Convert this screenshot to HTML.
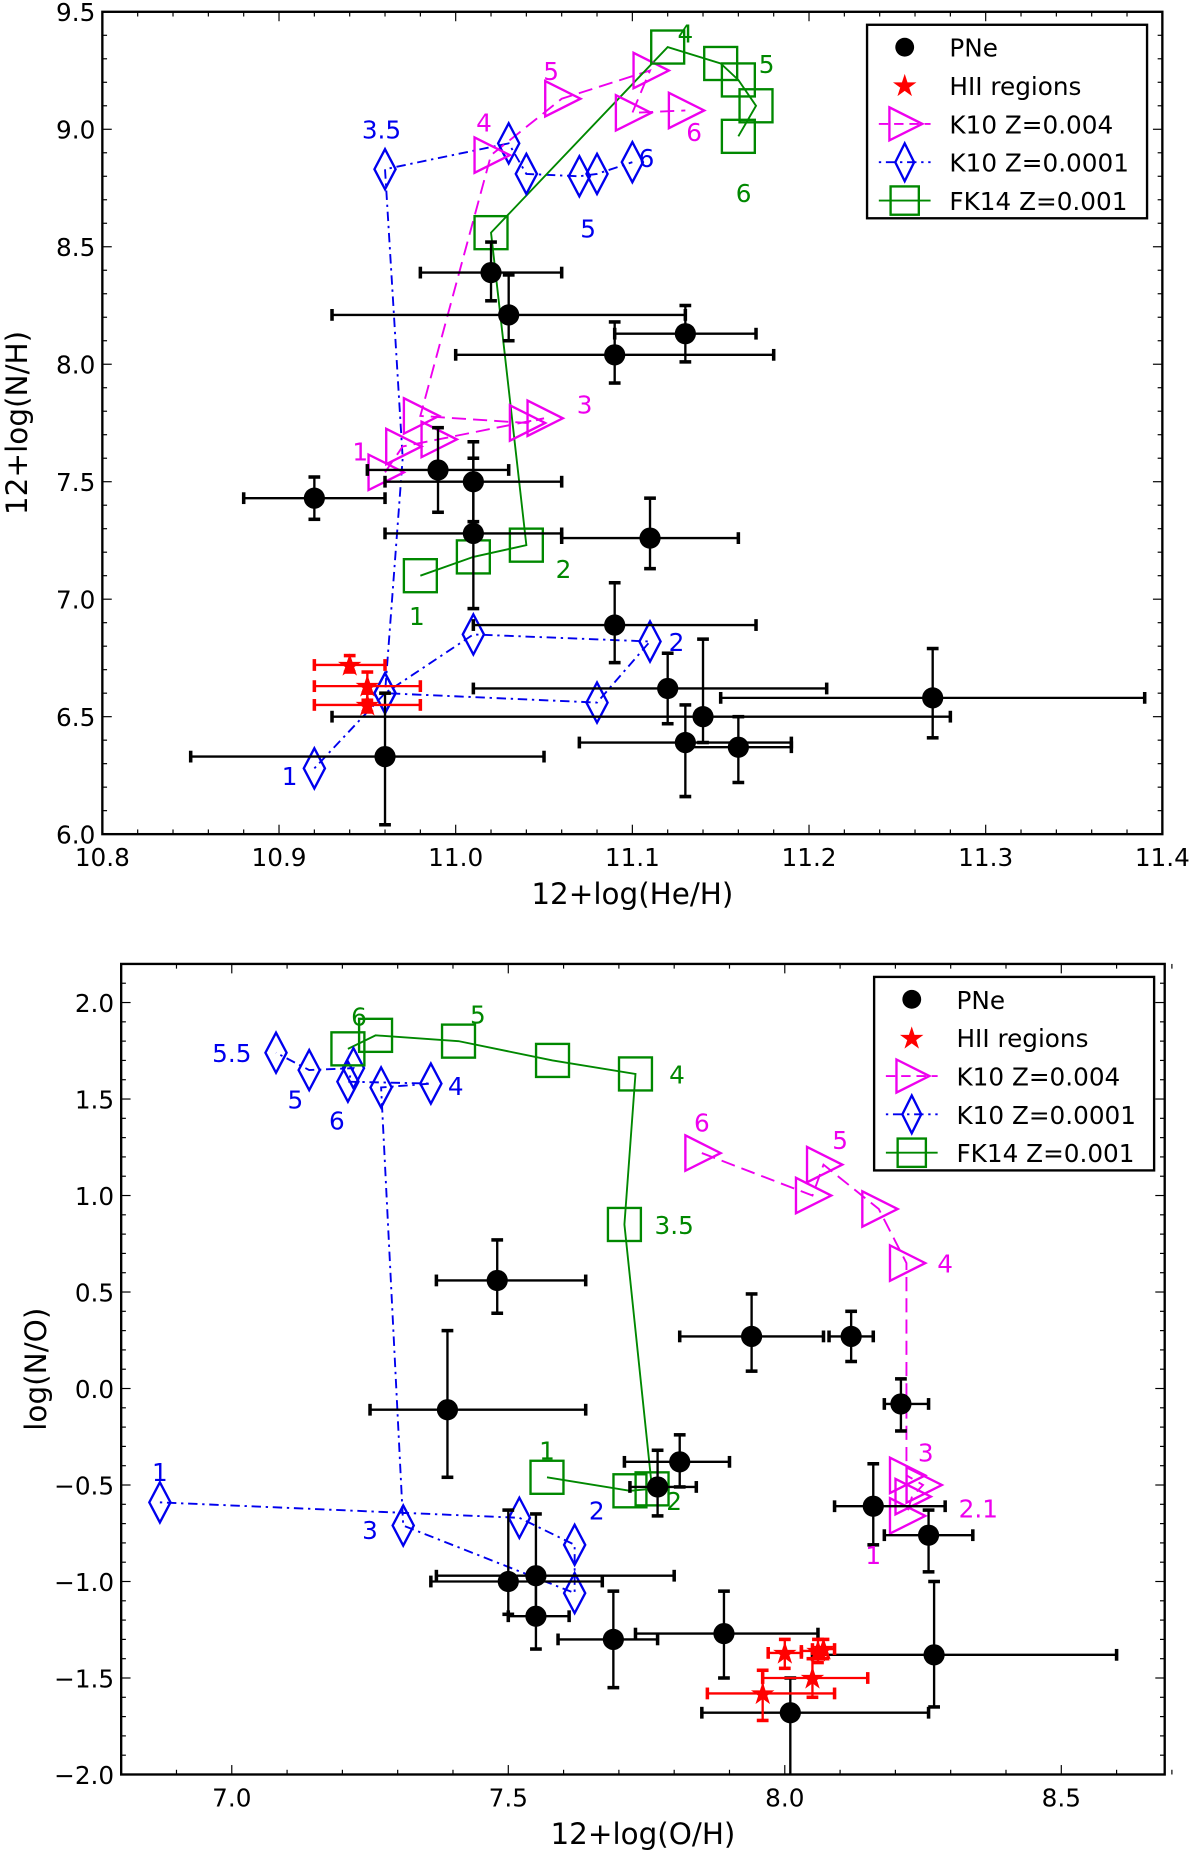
<!DOCTYPE html>
<html><head><meta charset="utf-8">
<style>
html,body{margin:0;padding:0;background:#fff}
svg{display:block}
text{font-family:"DejaVu Sans","Liberation Sans",sans-serif}
</style></head>
<body>
<svg id="fig" width="1200" height="1850" viewBox="0 0 1020 1568" preserveAspectRatio="none" xmlns="http://www.w3.org/2000/svg"></svg>
<script>
// ===== Top panel data: 12+log(He/H) vs 12+log(N/H) =====
const pneTopX=[11.02,11.03,11.13,11.09,10.92,10.99,11.01,11.01,11.11,11.09,11.12,11.27,11.14,11.13,11.16,10.96];
const pneTopY=[8.39,8.21,8.13,8.04,7.43,7.55,7.50,7.28,7.26,6.89,6.62,6.58,6.50,6.39,6.37,6.33];
const pneTopXlo=[10.98,10.93,11.09,11.00,10.88,10.95,10.96,10.96,11.06,11.01,11.01,11.15,10.93,11.07,11.13,10.85];
const pneTopXhi=[11.06,11.13,11.17,11.18,10.96,11.03,11.06,11.06,11.16,11.17,11.21,11.39,11.28,11.19,11.19,11.05];
const pneTopYlo=[8.27,8.10,8.01,7.92,7.34,7.37,7.33,6.96,7.13,6.73,6.47,6.41,6.39,6.16,6.22,6.04];
const pneTopYhi=[8.52,8.38,8.25,8.18,7.52,7.73,7.67,7.60,7.43,7.07,6.77,6.79,6.83,6.55,6.50,6.60];
const hiiTopX=[10.94,10.95,10.95];
const hiiTopY=[6.72,6.63,6.55];
const hiiTopXlo=[10.92,10.92,10.92];
const hiiTopXhi=[10.96,10.98,10.98];
const hiiTopYlo=[6.69,6.57,6.52];
const hiiTopYhi=[6.76,6.69,6.60];
const k4TopX=[10.96,10.97,10.99,11.05,11.04,10.98,11.02,11.06,11.11,11.10,11.13];
const k4TopY=[7.54,7.65,7.68,7.77,7.75,7.78,8.89,9.13,9.25,9.07,9.08];
const k1TopX=[10.92,10.96,11.01,11.11,11.08,10.96,10.97,10.96,11.03,11.04,11.07,11.08,11.10];
const k1TopY=[6.28,6.60,6.85,6.82,6.56,6.60,7.60,8.83,8.94,8.81,8.80,8.81,8.86];
const fkTopX=[10.98,11.01,11.04,11.02,11.12,11.15,11.16,11.17,11.16];
const fkTopY=[7.10,7.18,7.23,8.56,9.35,9.28,9.21,9.10,8.97];
const topLabels=[["1",10.946,7.63,"#e0e"],["3",11.073,7.83,"#e0e"],["4",11.016,9.03,"#e0e"],["5",11.054,9.25,"#e0e"],["6",11.135,8.99,"#e0e"],
 ["3.5",10.958,9.0,"#00e"],["5",11.075,8.58,"#00e"],["6",11.108,8.88,"#00e"],["2",11.125,6.82,"#00e"],["1",10.906,6.25,"#00e"],
 ["1",10.978,6.93,"#080"],["2",11.061,7.13,"#080"],["4",11.13,9.41,"#080"],["5",11.176,9.28,"#080"],["6",11.163,8.73,"#080"]];

// ===== Bottom panel data: 12+log(O/H) vs log(N/O) =====
const pneBotX=[7.48,7.39,7.94,8.12,8.21,7.81,7.77,8.16,8.26,7.50,7.55,7.55,7.69,7.89,8.27,8.01];
const pneBotY=[0.56,-0.11,0.27,0.27,-0.08,-0.38,-0.51,-0.61,-0.76,-1.00,-0.97,-1.18,-1.30,-1.27,-1.38,-1.68];
const pneBotXlo=[7.37,7.25,7.81,8.08,8.18,7.71,7.72,8.09,8.18,7.36,7.37,7.50,7.59,7.73,8.05,7.85];
const pneBotXhi=[7.64,7.64,8.07,8.16,8.26,7.90,7.84,8.29,8.34,7.67,7.80,7.61,7.77,8.06,8.60,8.26];
const pneBotYlo=[0.39,-0.46,0.09,0.14,-0.22,-0.51,-0.66,-0.81,-0.95,-1.17,-1.18,-1.35,-1.55,-1.50,-1.65,-2.10];
const pneBotYhi=[0.77,0.30,0.49,0.40,0.05,-0.24,-0.32,-0.39,-0.63,-0.63,-0.65,-0.97,-1.05,-1.05,-1.00,-1.50];
const hiiBotX=[8.00,8.07,8.05,7.96,8.06];
const hiiBotY=[-1.37,-1.35,-1.50,-1.58,-1.36];
const hiiBotXlo=[7.97,8.05,7.96,7.86,8.03];
const hiiBotXhi=[8.03,8.09,8.15,8.09,8.07];
const hiiBotYlo=[-1.45,-1.40,-1.60,-1.72,-1.42];
const hiiBotYhi=[-1.30,-1.30,-1.40,-1.46,-1.30];
const k4BotX=[7.85,8.05,8.07,8.17,8.22,8.22,8.25,8.23,8.22];
const k4BotY=[1.22,1.00,1.16,0.93,0.65,-0.45,-0.50,-0.56,-0.66];
const k1BotX=[6.87,7.52,7.62,7.62,7.31,7.27,7.36,7.21,7.22,7.14,7.08];
const k1BotY=[-0.59,-0.67,-0.81,-1.06,-0.71,1.56,1.58,1.59,1.66,1.65,1.74];
const fkBotX=[7.21,7.26,7.41,7.58,7.73,7.71,7.76,7.72,7.57];
const fkBotY=[1.76,1.83,1.80,1.70,1.63,0.85,-0.52,-0.53,-0.46];
const botLabels=[["6",7.85,1.38,"#e0e"],["5",8.10,1.29,"#e0e"],["4",8.29,0.65,"#e0e"],["3",8.255,-0.33,"#e0e"],["2.1",8.35,-0.62,"#e0e"],["1",8.16,-0.86,"#e0e"],
 ["1",6.87,-0.43,"#00e"],["3",7.25,-0.73,"#00e"],["2",7.66,-0.63,"#00e"],["4",7.405,1.57,"#00e"],["6",7.19,1.39,"#00e"],["5",7.115,1.50,"#00e"],["5.5",7.0,1.74,"#00e"],
 ["6",7.23,1.93,"#080"],["5",7.445,1.94,"#080"],["4",7.805,1.63,"#080"],["3.5",7.8,0.85,"#080"],["2",7.80,-0.58,"#080"],["1",7.57,-0.32,"#080"]];

const NS="http://www.w3.org/2000/svg";
const svg=document.getElementById('fig');
function el(tag,attrs,parent,txt){const e=document.createElementNS(NS,tag);for(const k in attrs)e.setAttribute(k,attrs[k]);if(txt!==undefined)e.textContent=txt;(parent||svg).appendChild(e);return e;}
function fmt(v){return (v<0?"\u2212":"")+Math.abs(v).toFixed(1);}

function panel(cfg){
  const g=el('g',{});
  
  
  const X=v=>cfg.L+(v-cfg.x0)/(cfg.x1-cfg.x0)*(cfg.R-cfg.L);
  const Y=v=>cfg.B-(v-cfg.y0)/(cfg.y1-cfg.y0)*(cfg.B-cfg.T);
  const clip='clip'+cfg.name;
  const cp=el('clipPath',{id:clip},g);el('rect',{x:cfg.L,y:cfg.T,width:cfg.R-cfg.L,height:cfg.B-cfg.T},cp);
  const tg=el('g',{stroke:'#000','stroke-width':1},g);
  
  const nx=Math.round((cfg.x1-cfg.x0)/cfg.xmin);
  for(let i=0;i<=nx;i++){const v=cfg.x0+i*cfg.xmin;const major=Math.abs(v/cfg.xmaj-Math.round(v/cfg.xmaj))<1e-6;const len=major?8:4;const px=X(v);
    el('line',{x1:px,x2:px,y1:cfg.B,y2:cfg.B-len},tg);el('line',{x1:px,x2:px,y1:cfg.T,y2:cfg.T+len},tg);
    if(major){const t=el('text',{x:px,y:cfg.B+27,'text-anchor':'middle','font-size':21,fill:'#000',stroke:'none'},g,v.toFixed(1));}}
  const ny=Math.round((cfg.y1-cfg.y0)/cfg.ymin);
  for(let i=0;i<=ny;i++){const v=cfg.y0+i*cfg.ymin;const major=Math.abs(v/cfg.ymaj-Math.round(v/cfg.ymaj))<1e-6;const len=major?8:4;const py=Y(v);
    el('line',{x1:cfg.L,x2:cfg.L+len,y1:py,y2:py},tg);el('line',{x1:cfg.R,x2:cfg.R-len,y1:py,y2:py},tg);
    if(major){const t=el('text',{x:cfg.L-6,y:py+8,'text-anchor':'end','font-size':21,fill:'#000',stroke:'none'},g,fmt(v));}}
  const xl=el('text',{x:(cfg.L+cfg.R)/2,y:cfg.B+59,'text-anchor':'middle','font-size':25},g,cfg.xlabel);
  
  const yl=el('text',{x:0,y:0,'text-anchor':'middle','font-size':25,transform:`translate(${cfg.L-64},${(cfg.T+cfg.B)/2}) rotate(-90)`},g,cfg.ylabel);
  
  const pg=el('g',{'clip-path':`url(#${clip})`},g);
  function line(xs,ys,col,dash,nm){const pts=xs.map((x,i)=>X(x)+','+Y(ys[i])).join(' ');const p=el('polyline',{points:pts,fill:'none',stroke:col,'stroke-width':1.6,'stroke-dasharray':dash},pg);}
  line(cfg.k1x,cfg.k1y,'#00e','2,4,8,4','k10-z0001-line');
  line(cfg.k4x,cfg.k4y,'#e0e','12,6','k10-z004-line');
  line(cfg.fkx,cfg.fky,'#080','','fk14-line');
  function diamond(x,y,col){const px=X(x),py=Y(y);const p=el('polygon',{points:`${px},${py-17} ${px+9},${py} ${px},${py+17} ${px-9},${py}`,fill:'none',stroke:col,'stroke-width':2},pg);}
  function tri(x,y,col){const px=X(x),py=Y(y);const p=el('polygon',{points:`${px-14},${py-15} ${px+16},${py} ${px-14},${py+15}`,fill:'none',stroke:col,'stroke-width':2},pg);}
  function sq(x,y,col){const px=X(x),py=Y(y);const p=el('rect',{x:px-14,y:py-14,width:28,height:28,fill:'none',stroke:col,'stroke-width':2},pg);}
  cfg.k1x.forEach((x,i)=>{if(!(cfg.skip1&&cfg.skip1.includes(i)))diamond(x,cfg.k1y[i],'#00e');});
  cfg.k4x.forEach((x,i)=>tri(x,cfg.k4y[i],'#e0e'));
  cfg.fkx.forEach((x,i)=>sq(x,cfg.fky[i],'#080'));
  function errs(xs,ys,xlo,xhi,ylo,yhi,col,kind){
    xs.forEach((x,i)=>{const eg=el('g',{stroke:col,'stroke-width':2},pg);
      
      const px=X(x),py=Y(ys[i]);
      el('line',{x1:X(xlo[i]),x2:X(xhi[i]),y1:py,y2:py},eg);
      el('line',{x1:px,x2:px,y1:Y(ylo[i]),y2:Y(yhi[i])},eg);
      [X(xlo[i]),X(xhi[i])].forEach(c=>el('line',{x1:c,x2:c,y1:py-5,y2:py+5,'stroke-width':3},eg));
      [Y(ylo[i]),Y(yhi[i])].forEach(c=>el('line',{x1:px-5,x2:px+5,y1:c,y2:c,'stroke-width':3},eg));
      if(kind==='pne')el('circle',{cx:px,cy:py,r:9,fill:'#000',stroke:'none'},eg);
      else el('text',{x:px,y:py+9,'text-anchor':'middle','font-size':26,fill:col,stroke:'none'},eg,'\u2605');
    });}
  errs(cfg.px,cfg.py,cfg.pxlo,cfg.pxhi,cfg.pylo,cfg.pyhi,'#000','pne');
  errs(cfg.hx,cfg.hy,cfg.hxlo,cfg.hxhi,cfg.hylo,cfg.hyhi,'#f00','hii');
  cfg.labels.forEach(l=>{const t=el('text',{x:X(l[1]),y:Y(l[2])+8,'text-anchor':'middle','font-size':21,fill:l[3]},pg,l[0]);});
  const fr=el('rect',{x:cfg.L,y:cfg.T,width:cfg.R-cfg.L,height:cfg.B-cfg.T,fill:'none',stroke:'#000','stroke-width':2},g);
  
  const lg=el('g',{},g);
  const lx=cfg.lx,ly=cfg.ly;
  el('rect',{x:lx,y:ly,width:238,height:164,fill:'#fff',stroke:'#000','stroke-width':2},lg);
  const names=['PNe','HII regions','K10 Z=0.004','K10 Z=0.0001','FK14 Z=0.001'];
  names.forEach((n,i)=>{const cy=ly+19+i*32.5;const cx=lx+32;
    const e=el('g',{},lg);
    if(i===0)el('circle',{cx:cx,cy:cy,r:8,fill:'#000'},e);
    if(i===1)el('text',{x:cx,y:cy+9,'text-anchor':'middle','font-size':26,fill:'#f00'},e,'\u2605');
    if(i===2){el('line',{x1:cx-22,x2:cx+22,y1:cy,y2:cy,stroke:'#e0e','stroke-width':1.6,'stroke-dasharray':'8,5'},e);el('polygon',{points:`${cx-13},${cy-14} ${cx+15},${cy} ${cx-13},${cy+14}`,fill:'none',stroke:'#e0e','stroke-width':2},e);}
    if(i===3){el('line',{x1:cx-22,x2:cx+22,y1:cy,y2:cy,stroke:'#00e','stroke-width':1.6,'stroke-dasharray':'2,4,8,4'},e);el('polygon',{points:`${cx},${cy-16} ${cx+8},${cy} ${cx},${cy+16} ${cx-8},${cy}`,fill:'none',stroke:'#00e','stroke-width':2},e);}
    if(i===4){el('line',{x1:cx-22,x2:cx+22,y1:cy,y2:cy,stroke:'#080','stroke-width':1.6},e);el('rect',{x:cx-12,y:cy-12,width:24,height:24,fill:'none',stroke:'#080','stroke-width':2},e);}
    el('text',{x:lx+70,y:cy+8,'font-size':21},e,n);
  });
}

panel({name:'top-panel',L:87,R:988,T:10,B:707,x0:10.8,x1:11.4,y0:6.0,y1:9.5,xmaj:0.1,xmin:0.02,ymaj:0.5,ymin:0.1,
  xlabel:'12+log(He/H)',ylabel:'12+log(N/H)',lx:737,ly:21,skip1:[6],
  px:pneTopX,py:pneTopY,pxlo:pneTopXlo,pxhi:pneTopXhi,pylo:pneTopYlo,pyhi:pneTopYhi,
  hx:hiiTopX,hy:hiiTopY,hxlo:hiiTopXlo,hxhi:hiiTopXhi,hylo:hiiTopYlo,hyhi:hiiTopYhi,
  k4x:k4TopX,k4y:k4TopY,k1x:k1TopX,k1y:k1TopY,fkx:fkTopX,fky:fkTopY,labels:topLabels});
panel({name:'bottom-panel',L:103,R:990,T:817,B:1504,x0:6.8,x1:8.687,y0:-2.0,y1:2.2,xmaj:0.5,xmin:0.1,ymaj:0.5,ymin:0.1,
  xlabel:'12+log(O/H)',ylabel:'log(N/O)',lx:743,ly:828,
  px:pneBotX,py:pneBotY,pxlo:pneBotXlo,pxhi:pneBotXhi,pylo:pneBotYlo,pyhi:pneBotYhi,
  hx:hiiBotX,hy:hiiBotY,hxlo:hiiBotXlo,hxhi:hiiBotXhi,hylo:hiiBotYlo,hyhi:hiiBotYhi,
  k4x:k4BotX,k4y:k4BotY,k1x:k1BotX,k1y:k1BotY,fkx:fkBotX,fky:fkBotY,labels:botLabels});
</script>
</body></html>
